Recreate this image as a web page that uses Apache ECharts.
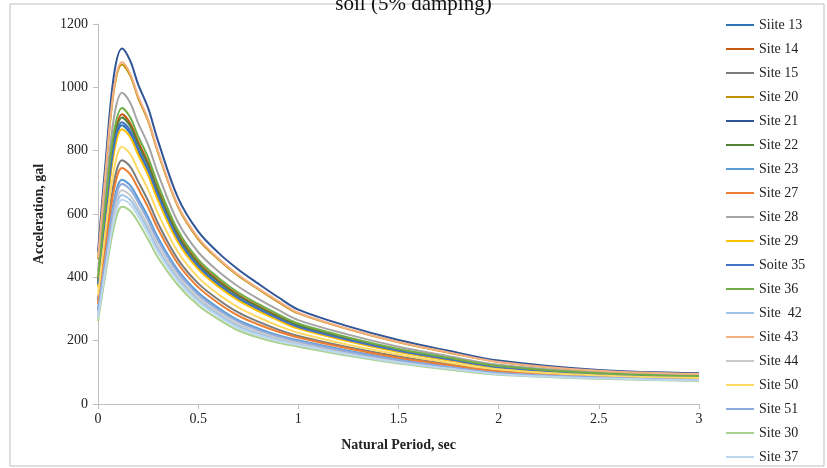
<!DOCTYPE html>
<html>
<head>
<meta charset="utf-8">
<script src="https://cdn.jsdelivr.net/npm/echarts@6/dist/echarts.min.js"></script>
<style>
html,body{margin:0;padding:0;background:#fff;}
#chart{width:827px;height:468px;}
</style>
</head>
<body>
<div id="chart"></div>
<script>
const periods = [0, 0.04, 0.08, 0.12, 0.16, 0.2, 0.25, 0.3, 0.4, 0.5, 0.6, 0.7, 0.8, 0.9, 1.0, 1.25, 1.5, 1.75, 2.0, 2.5, 3.0];

const siteNames = ["Siite 13", "Site 14", "Site 15", "Site 20", "Site 21", "Site 22", "Site 23", "Site 27", "Site 28", "Site 29", "Soite 35", "Site 36", "Site  42", "Site 43", "Site 44", "Site 50", "Site 51", "Site 30", "Site 37"];

const site13 = [374, 605, 807, 880, 854, 799, 733, 651, 516, 432, 376, 331, 297, 267, 241, 200, 166, 139, 115, 94, 85];
const site14 = [389, 630, 840, 915, 887, 829, 762, 677, 536, 448, 391, 345, 309, 277, 249, 206, 171, 143, 118, 96, 87];
const site15 = [326, 526, 701, 770, 750, 703, 642, 570, 456, 381, 330, 289, 260, 235, 215, 179, 150, 126, 105, 88, 80];
const site20 = [458, 744, 992, 1072, 1038, 967, 894, 793, 622, 521, 457, 405, 363, 322, 286, 236, 195, 162, 133, 104, 95];
const site21 = [480, 780, 1040, 1123, 1085, 1010, 935, 830, 650, 545, 478, 425, 380, 337, 298, 245, 202, 168, 137, 107, 97];
const site22 = [385, 623, 831, 905, 878, 820, 754, 670, 530, 443, 386, 341, 306, 274, 247, 204, 170, 142, 117, 95, 87];
const site23 = [299, 481, 642, 708, 691, 649, 591, 525, 422, 352, 304, 265, 239, 217, 201, 168, 141, 119, 100, 85, 77];
const site27 = [315, 508, 677, 745, 726, 681, 621, 552, 442, 369, 319, 279, 251, 228, 210, 175, 146, 123, 103, 87, 79];
const site28 = [419, 679, 906, 983, 952, 888, 819, 727, 573, 480, 419, 371, 332, 297, 265, 219, 181, 151, 124, 99, 90];
const site29 = [369, 596, 795, 868, 843, 788, 723, 642, 510, 426, 371, 327, 293, 264, 238, 198, 164, 138, 114, 93, 85];
const site35 = [378, 612, 816, 890, 864, 807, 742, 659, 522, 436, 380, 335, 301, 270, 243, 202, 168, 141, 116, 94, 86];
const site36 = [398, 645, 860, 935, 906, 846, 779, 692, 547, 457, 399, 352, 316, 283, 254, 210, 174, 146, 120, 97, 88];
const site42 = [278, 447, 596, 660, 645, 607, 551, 489, 395, 329, 284, 246, 223, 204, 190, 159, 133, 113, 95, 82, 75];
const site43 = [461, 749, 999, 1080, 1044, 973, 899, 798, 626, 525, 460, 408, 365, 325, 288, 237, 196, 163, 133, 105, 95];
const site44 = [285, 457, 610, 675, 659, 620, 563, 500, 404, 336, 290, 252, 228, 208, 193, 162, 136, 115, 97, 83, 75];
const site50 = [344, 556, 741, 812, 790, 739, 677, 601, 479, 400, 347, 305, 274, 247, 225, 187, 156, 131, 109, 90, 82];
const site51 = [293, 472, 629, 695, 678, 638, 580, 515, 415, 346, 298, 260, 234, 214, 198, 165, 139, 117, 98, 84, 76];
const site30 = [262, 420, 560, 623, 610, 575, 520, 462, 375, 312, 268, 232, 210, 193, 181, 152, 128, 109, 92, 80, 73];
const site37 = [272, 436, 581, 645, 631, 594, 538, 478, 387, 322, 277, 240, 217, 199, 186, 156, 131, 112, 94, 81, 74];

const seriesValues = [site13, site14, site15, site20, site21, site22, site23, site27, site28, site29, site35, site36, site42, site43, site44, site50, site51, site30, site37];

const colors = ["#2E75B6", "#C55A11", "#7B7B7B", "#BF9000", "#2F5597", "#538135", "#5B9BD5", "#ED7D31", "#A5A5A5", "#FFC000", "#4472C4", "#70AD47", "#9DC3E6", "#F4B183", "#C9C9C9", "#FFD966", "#8FAADC", "#A9D18E", "#BDD7EE"];

const xTicks = [0, 0.5, 1, 1.5, 2, 2.5, 3];
const yTicks = [0, 200, 400, 600, 800, 1000, 1200];

const serif = "'Liberation Serif', 'DejaVu Serif', serif";

const chart = echarts.init(document.getElementById('chart'), null, {renderer: 'canvas'});

const series = siteNames.map((name, i) => ({
  name: name,
  type: 'line',
  data: periods.map((p, j) => [p, seriesValues[i][j]]),
  smooth: 0.35,
  symbol: 'none',
  showSymbol: false,
  lineStyle: {width: 2, color: colors[i]},
  itemStyle: {color: colors[i]},
  animation: false
}));

chart.setOption({
  animation: false,
  backgroundColor: '#fff',
  title: {
    text: 'soil (5% damping)',
    left: 'center',
    top: -11,
    textStyle: {fontFamily: serif, fontSize: 21, fontWeight: 'normal', color: '#111'}
  },
  graphic: [{
    type: 'rect',
    shape: {x: 10, y: 4, width: 814, height: 462},
    style: {fill: null, stroke: '#BFBFBF', lineWidth: 1},
    z: -1,
    silent: true
  }],
  legend: {
    orient: 'vertical',
    left: 726,
    top: 18,
    padding: 0,
    itemWidth: 28,
    itemHeight: 2,
    itemGap: 10,
    icon: 'rect',
    textStyle: {fontFamily: serif, fontSize: 14, color: '#222', lineHeight: 14, height: 14},
    data: siteNames
  },
  grid: {left: 98, right: 128, top: 24, bottom: 64, containLabel: false},
  xAxis: {
    type: 'value',
    min: xTicks[0],
    max: xTicks[xTicks.length - 1],
    interval: 0.5,
    name: 'Natural Period, sec',
    nameLocation: 'middle',
    nameGap: 34,
    nameTextStyle: {fontFamily: serif, fontSize: 14, fontWeight: 'bold', color: '#222'},
    axisLine: {show: true, lineStyle: {color: '#BFBFBF', width: 1}},
    axisTick: {show: true, inside: false, length: 5, lineStyle: {color: '#BFBFBF'}},
    axisLabel: {fontFamily: serif, fontSize: 14, color: '#222', margin: 8},
    splitLine: {show: false}
  },
  yAxis: {
    type: 'value',
    min: yTicks[0],
    max: yTicks[yTicks.length - 1],
    interval: 200,
    name: 'Acceleration, gal',
    nameLocation: 'middle',
    nameGap: 52,
    nameRotate: 90,
    nameTextStyle: {fontFamily: serif, fontSize: 14, fontWeight: 'bold', color: '#222'},
    axisLine: {show: true, lineStyle: {color: '#BFBFBF', width: 1}},
    axisTick: {show: true, inside: false, length: 5, lineStyle: {color: '#BFBFBF'}},
    axisLabel: {fontFamily: serif, fontSize: 14, color: '#222', margin: 10, formatter: function (v) { return String(v); }},
    splitLine: {show: false}
  },
  series: series
});
</script>
</body>
</html>
